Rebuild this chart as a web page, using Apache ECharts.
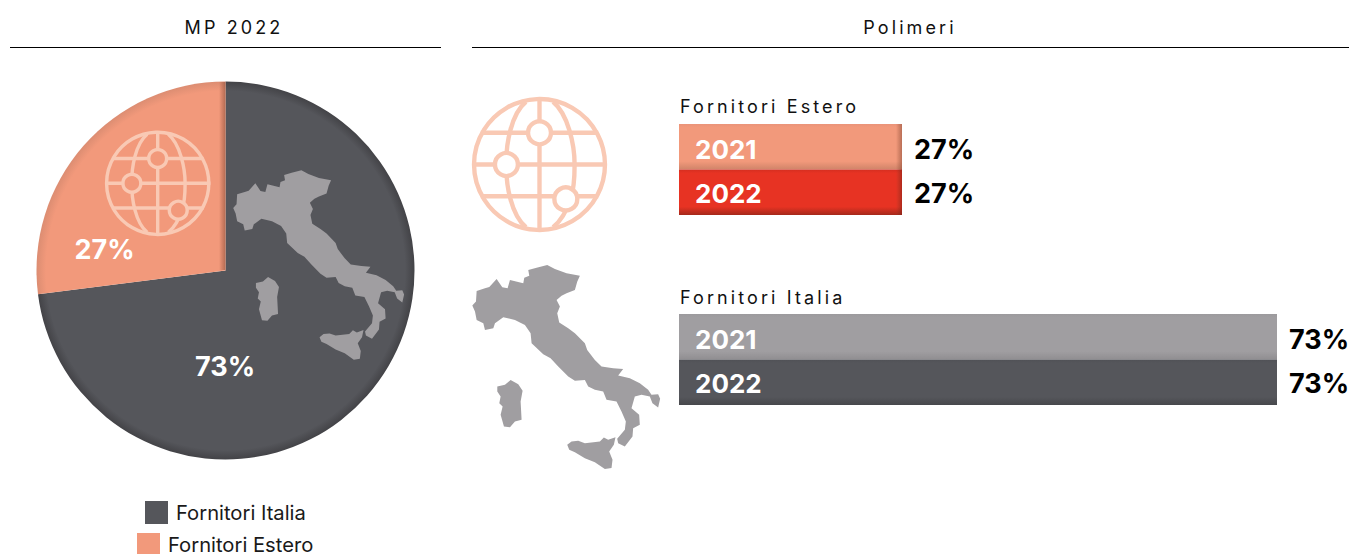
<!DOCTYPE html>
<html>
<head>
<meta charset="utf-8">
<style>
  html, body { margin: 0; padding: 0; background: #fff; overflow: hidden; }
  #chart { width: 1349px; height: 554px; }
  /* echarts has no letter spacing option, only the 18px headings use it */
  #chart text[style*="18px"] { letter-spacing: 3.1px; }
</style>
<script src="https://cdn.jsdelivr.net/npm/echarts@6/dist/echarts.min.js"></script>
</head>
<body>
<div id="chart"></div>
<script>
const pieNames = ["Fornitori Italia", "Fornitori Estero"];
const pieValues = [73, 27];
const years = ["2021", "2022"];
const esteroValues = [27, 27];
const italiaValues = [73, 73];

const FONT = "Inter, 'Liberation Sans', sans-serif";
const DARK = "#55565b";
const ORANGE = "#f2997b";
const GREY = "#a09ea1";
const RED = "#e73323";
const PALE = "#f9c9b4";

// map outlines
const mainland = [[37,152],[48,140],[50,108],[75,100],[88,96],[110,72],[127,97],[143,100],[150,75],[190,85],[193,68],[208,62],[205,45],[230,38],[262,30],[285,42],[320,55],[360,62],[352,80],[345,105],[320,115],[305,122],[290,135],[300,155],[292,175],[298,203],[325,220],[345,235],[375,265],[382,285],[405,315],[425,335],[460,340],[490,342],[475,362],[510,370],[540,385],[565,405],[575,420],[595,418],[601,432],[595,458],[578,445],[570,425],[545,420],[525,425],[515,460],[538,480],[540,510],[520,520],[518,545],[495,575],[475,565],[472,552],[495,525],[498,500],[485,470],[470,440],[440,435],[430,410],[405,405],[385,395],[375,375],[345,378],[325,365],[295,335],[272,310],[250,298],[215,265],[212,235],[195,210],[165,195],[130,187],[105,205],[100,220],[75,225],[70,205],[50,195],[45,170]];
const sardinia = [[112,395],[135,390],[152,375],[175,388],[188,408],[182,440],[185,495],[165,500],[150,517],[132,515],[122,480],[128,455],[118,445],[122,425],[112,410]];
const sicily = [[322,570],[335,560],[355,558],[375,565],[420,560],[432,548],[445,555],[467,547],[462,570],[448,590],[458,615],[455,640],[435,643],[405,622],[375,610],[345,592],[328,585]];

function italy(x, y, scaleX, scaleY) {
  return {
    type: "group", x: x, y: y, scaleX: scaleX, scaleY: scaleY,
    children: [mainland, sardinia, sicily].map((points) => ({
      type: "polygon", z: 10,
      shape: { points: points },
      style: { fill: GREY },
    })),
  };
}

// globe drawn around 0,0 with radius 100
function globe(cx, cy, r, nodeFill) {
  const s = r / 100;
  const line = { fill: "none", stroke: PALE, lineWidth: 6.5 };
  const chords = [[-47, 87], [0, 100], [47, 87]].map(([y, w]) => ({
    type: "line", z: 10,
    shape: { x1: -w, y1: y, x2: w, y2: y },
    style: line,
  }));
  const curves = [
    [-20, -93, -49, 0, -42, -75, -50, -30],
    [-49, 0, -20, 93, -50, 30, -42, 75],
    [20, -93, 52, 0, 42, -75, 52, -30],
    [52, 0, 46, 51, 52, 25, 50, 40],
    [46, 51, 20, 93, 40, 70, 30, 85],
  ].map(([x1, y1, x2, y2, cpx1, cpy1, cpx2, cpy2]) => ({
    type: "bezierCurve", z: 10,
    shape: { x1, y1, x2, y2, cpx1, cpy1, cpx2, cpy2 },
    style: line,
  }));
  const nodes = [[0, -47], [-49, 0], [39, 51]].map(([x, y]) => ({
    type: "circle", z: 11,
    shape: { cx: x, cy: y, r: 17 },
    style: { fill: nodeFill, stroke: PALE, lineWidth: 6.5 },
  }));
  return {
    type: "group", x: cx, y: cy, scaleX: s, scaleY: s,
    children: [
      { type: "circle", z: 10, shape: { cx: 0, cy: 0, r: 97 }, style: line },
      { type: "line", z: 10, shape: { x1: 0, y1: -97, x2: 0, y2: 97 }, style: line },
      ...chords,
      ...curves,
      ...nodes,
    ],
  };
}

function pieRim(base, edge) {
  return {
    type: "radial", x: 225.5, y: 270.5, r: 189, global: true,
    colorStops: [
      { offset: 0, color: base },
      { offset: 0.95, color: base },
      { offset: 1, color: edge },
    ],
  };
}

function barShade(top, base, bottom) {
  return {
    type: "linear", x: 0, y: 0, x2: 0, y2: 1,
    colorStops: [
      { offset: 0, color: top },
      { offset: 0.08, color: base },
      { offset: 0.82, color: base },
      { offset: 1, color: bottom },
    ],
  };
}

function edgeShade(x, y, w, h, color) {
  return {
    type: "rect", z: 9,
    shape: { x: x, y: y, width: w, height: h },
    style: {
      fill: {
        type: "linear", x: 0, y: 0, x2: 1, y2: 0,
        colorStops: [
          { offset: 0, color: "rgba(120,60,40,0)" },
          { offset: 1, color: color },
        ],
      },
    },
  };
}

function rule(x1, x2) {
  return {
    type: "line", z: 10,
    shape: { x1: x1, y1: 47.5, x2: x2, y2: 47.5 },
    style: { stroke: "#000", lineWidth: 1 },
  };
}

function heading(text, left, top, center) {
  return {
    text: text, left: left, top: top, padding: 0,
    textAlign: center ? "center" : "left",
    textStyle: { fontFamily: FONT, fontSize: 18, fontWeight: "normal", color: "#111" },
  };
}

function legendRow(name, left, top, lift) {
  return {
    data: [name], left: left, top: top, padding: 0, icon: "rect",
    itemWidth: 23, itemHeight: 23, selectedMode: false,
    itemStyle: { color: name === pieNames[0] ? DARK : ORANGE },
    textStyle: { fontFamily: FONT, fontSize: 20.2, color: "#1a1a1a", padding: [lift, 0, 0, 3] },
  };
}

// colour bars carry the year, a clear bar on top carries the percent
function barSeries(values, index, colors) {
  const nudge = [3, 1];
  return [
    {
      type: "bar",
      xAxisIndex: index,
      yAxisIndex: index,
      barWidth: "100%",
      barGap: "-100%",
      data: values.map((v, i) => ({
        value: v,
        itemStyle: { color: colors[i] },
        label: { offset: [0, nudge[i]] },
      })),
      label: {
        show: true, position: "insideLeft", distance: 16, formatter: "{b}",
        fontFamily: FONT, fontSize: 26, fontWeight: "bold", color: "#fff",
      },
    },
    {
      type: "bar",
      xAxisIndex: index,
      yAxisIndex: index,
      barWidth: "100%",
      barGap: "-100%",
      itemStyle: { color: "rgba(0,0,0,0)" },
      data: values.map((v, i) => ({ value: v, label: { offset: [0, nudge[i]] } })),
      label: {
        show: true, position: "right", distance: 12, formatter: "{c}%",
        fontFamily: FONT, fontSize: 27, fontWeight: "bold", color: "#000",
      },
    },
  ];
}

function yearAxis(index) {
  return {
    type: "category", gridIndex: index, data: years, inverse: true,
    axisLine: { show: false }, axisTick: { show: false }, axisLabel: { show: false },
  };
}

function valueAxis(index, max) {
  return { type: "value", gridIndex: index, min: 0, max: max, show: false };
}

const chart = echarts.init(document.getElementById("chart"), null, { renderer: "svg" });

const labelSpots = [[225, 366], [104.5, 249]];

chart.setOption({
  animation: false,
  title: [
    heading("MP 2022", 234, 18, true),
    heading("Polimeri", 910, 18, true),
    heading("Fornitori Estero", 680, 97, false),
    heading("Fornitori Italia", 680, 288, false),
  ],
  legend: [legendRow(pieNames[0], 145, 501, 6), legendRow(pieNames[1], 137, 533, 0)],
  grid: [
    { left: 679, top: 124, width: 223, height: 91 },
    { left: 679, top: 314, width: 598, height: 91 },
  ],
  xAxis: [valueAxis(0, 27), valueAxis(1, 73)],
  yAxis: [yearAxis(0), yearAxis(1)],
  series: [
    {
      type: "pie",
      center: [225.5, 270.5],
      radius: [0, 189],
      startAngle: 90,
      clockwise: true,
      silent: true,
      data: pieNames.map((name, i) => ({
        name: name,
        value: pieValues[i],
        itemStyle: { color: i === 0 ? pieRim(DARK, "#434347") : pieRim(ORANGE, "#dc8d72") },
      })),
      label: {
        show: true, position: "inside", formatter: "{c}%",
        fontFamily: FONT, fontSize: 27, fontWeight: "bold", color: "#fff",
      },
      labelLine: { show: false },
      labelLayout: (params) => ({
        x: labelSpots[params.dataIndex][0],
        y: labelSpots[params.dataIndex][1],
        align: "center",
        verticalAlign: "middle",
      }),
    },
    ...barSeries(esteroValues, 0, [
      barShade("#ea9479", ORANGE, "#d08469"),
      barShade("#d42e20", RED, "#a5291b"),
    ]),
    ...barSeries(italiaValues, 1, [
      barShade("#9c9a9d", GREY, "#908e91"),
      barShade("#505156", DARK, "#47484c"),
    ]),
  ],
  graphic: [
    rule(10, 441),
    rule(472, 1349),
    edgeShade(219, 82, 6.5, 188, "rgba(130,70,50,0.55)"),
    edgeShade(896, 124, 6, 45, "rgba(130,70,50,0.5)"),
    edgeShade(896, 169, 6, 46, "rgba(120,30,20,0.5)"),
    italy(460, 255, 1 / 3, 1 / 3),
    italy(222, 161, 0.303, 0.309),
    globe(539.5, 164.5, 67.5, "#fff"),
    globe(157.7, 183.3, 52.7, ORANGE),
  ],
});
</script>
</body>
</html>
